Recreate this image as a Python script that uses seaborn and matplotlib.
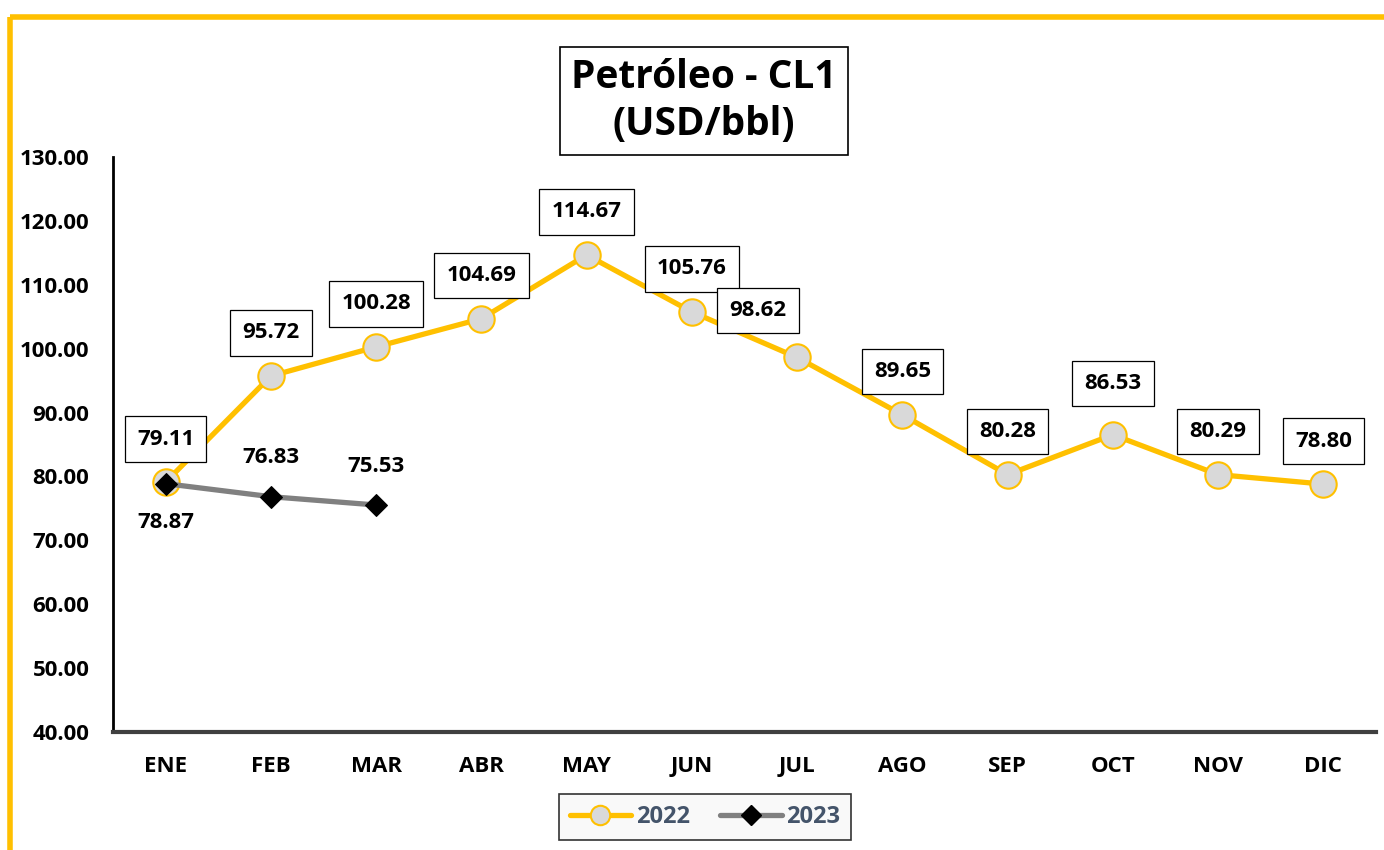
import numpy as np
import pandas as pd
import matplotlib
matplotlib.use("Agg")
import matplotlib.pyplot as plt
from matplotlib.lines import Line2D
import seaborn as sns

# datos
meses = ["ENE", "FEB", "MAR", "ABR", "MAY", "JUN", "JUL", "AGO", "SEP", "OCT", "NOV", "DIC"]
cl1_2022 = [79.11, 95.72, 100.28, 104.69, 114.67, 105.76, 98.62, 89.65, 80.28, 86.53, 80.29, 78.80]
cl1_2023 = [78.87, 76.83, 75.53]
yticks = [40, 50, 60, 70, 80, 90, 100, 110, 120, 130]

sns.set_style("white")
plt.rcParams['font.family'] = ['Open Sans', 'DejaVu Sans']
plt.rcParams['font.weight'] = 'bold'
plt.rcParams['text.color'] = 'black'
plt.rcParams['xtick.color'] = 'black'
plt.rcParams['ytick.color'] = 'black'

ORO = "#FFC000"
GRIS = "#808080"
FS = 16

fig = plt.figure(figsize=(13.84, 8.5), dpi=100)
ax = fig.add_axes([113/1384, 1 - 732/850, (1376 - 113)/1384, (732 - 157)/850])

df22 = pd.DataFrame({"mes": meses, "valor": cl1_2022})
df23 = pd.DataFrame({"mes": meses[:len(cl1_2023)], "valor": cl1_2023})

sns.lineplot(data=df22, x="mes", y="valor", ax=ax, color=ORO, lw=3.8,
             marker="o", markersize=19, markerfacecolor="#D9D9D9",
             markeredgecolor=ORO, markeredgewidth=1.5, label="2022")
sns.lineplot(data=df23, x="mes", y="valor", ax=ax, color=GRIS, lw=3.8,
             marker="D", markersize=11, markerfacecolor="black",
             markeredgecolor="black", label="2023")

ax.set_xlim(-0.5, 11.5)
ax.set_ylim(40, 130)
ax.set_yticks(yticks)
ax.set_yticklabels([f"{v:.2f}" for v in yticks])
ax.set_xticks(range(len(meses)))
ax.set_xticklabels(meses)
ax.set_xticks(np.arange(-0.5, 12, 1), minor=True)
ax.set_xlabel("")
ax.set_ylabel("")

for s in ["top", "right"]:
    ax.spines[s].set_visible(False)
ax.spines["left"].set_color("black")
ax.spines["left"].set_linewidth(2)
ax.spines["bottom"].set_color("#404040")
ax.spines["bottom"].set_linewidth(3)
ax.tick_params(axis="y", which="major", direction="out", length=7, width=2,
               color="black", labelcolor="black", labelsize=FS, pad=10)
ax.tick_params(axis="x", which="major", length=0, labelsize=FS, labelcolor="black", pad=17)
ax.tick_params(axis="x", which="minor", direction="out", length=7, width=3,
               color="#404040")
for t in ax.get_xticklabels() + ax.get_yticklabels():
    t.set_fontweight("bold")

# etiquetas 2022 (con recuadro)
desp = {6: (-28, 34), 9: (0, 37)}
for i, v in enumerate(cl1_2022):
    dx, dy = desp.get(i, (0, 31))
    ax.annotate(f"{v:.2f}", (i, v), xytext=(dx, dy), textcoords="offset points",
                ha="center", va="center", fontsize=FS, fontweight="bold", color="black",
                bbox=dict(boxstyle="square,pad=0.55", fc="white", ec="black", lw=0.9),
                zorder=5)

# etiquetas 2023
for i, v in enumerate(cl1_2023):
    dy = -28 if i == 0 else 28
    ax.annotate(f"{v:.2f}", (i, v), xytext=(0, dy), textcoords="offset points",
                ha="center", va="center", fontsize=FS, fontweight="bold", color="black",
                zorder=5)

# titulo
fig.text(704/1384, 1 - 101/850, "Petróleo - CL1\n(USD/bbl)", ha="center", va="center",
         fontsize=28, fontweight="bold", linespacing=1.25, color="black",
         bbox=dict(boxstyle="square,pad=0.3", fc="white", ec="black", lw=1.2))

# leyenda
h1 = Line2D([], [], color=ORO, lw=3.8, marker="o", markersize=14,
            markerfacecolor="#D9D9D9", markeredgecolor=ORO, markeredgewidth=1.5)
h2 = Line2D([], [], color=GRIS, lw=3.8, marker="D", markersize=10,
            markerfacecolor="black", markeredgecolor="black")
leg = ax.legend([h1, h2], ["2022", "2023"], loc="center", ncol=2,
                bbox_to_anchor=(705/1384, 1 - 817/850), bbox_transform=fig.transFigure,
                frameon=True, fancybox=False, fontsize=FS + 1, handlelength=2.6,
                columnspacing=1.3, handletextpad=0.2, borderpad=0.45)
leg.get_frame().set_edgecolor("black")
leg.get_frame().set_facecolor("#F8F8F8")
leg.get_frame().set_linewidth(1.2)
for t in leg.get_texts():
    t.set_color("#44546A")
    t.set_fontweight("bold")

# marco
fig.add_artist(Line2D([10/1384, 1], [1 - 17/850, 1 - 17/850], color=ORO, lw=4,
                      transform=fig.transFigure, solid_capstyle="butt"))
fig.add_artist(Line2D([10/1384, 10/1384], [1 - 17/850, 0], color=ORO, lw=4,
                      transform=fig.transFigure, solid_capstyle="butt"))

fig.savefig("out.png", dpi=100)
